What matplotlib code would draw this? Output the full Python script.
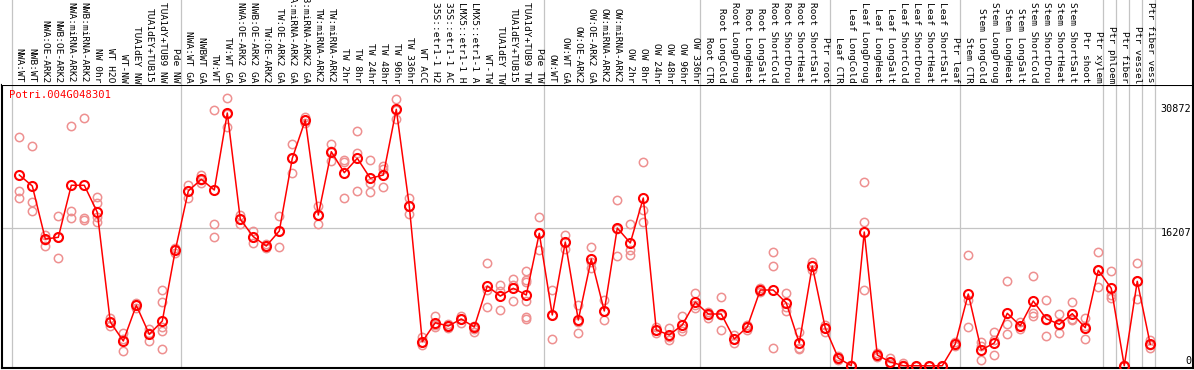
import matplotlib
matplotlib.use('Agg')
import matplotlib.pyplot as plt
import matplotlib.transforms as mtransforms

gene_id = "Potri.004G048301"

categories = [
    "NWA:WT", "NWB:WT", "NWA:OE-ARK2", "NWB:OE-ARK2", "NWA:miRNA-ARK2", "NWB:miRNA-ARK2",
    "NW 0hr", "WT H2O", "WT-NW", "TUA1dEY NW", "TUA1dEY+TUB15", "TUA1dY+TUB9 NW", "Pde NW",
    "NWA:WT GA", "NWBWT GA", "TW:WT", "TW:WT GA", "NWA:OE-ARK2 GA", "NWB:OE-ARK2 GA",
    "TW:OE-ARK2", "TW:OE-ARK2 GA", "NWA:miRNA-ARK2 GA", "NWB:miRNA-ARK2 GA", "TW:miRNA-ARK2",
    "TW:miRNA-ARK2", "TW 2hr", "TW 8hr", "TW 24hr", "TW 48hr", "TW 96hr", "TW 336hr",
    "WT ACC", "35S::etr1-1 H2", "35S::etr1-1 AC", "LMX5::etr1-1 H", "LMX5::etr1-1 A",
    "WT-TW", "TUA1dEY TW", "TUA1dEY+TUB15", "TUA1dY+TUB9 TW", "Pde TW",
    "OW:WT", "OW:WT GA", "OW:OE-ARK2", "OW:OE-ARK2 GA", "OW:miRNA-ARK2", "OW:miRNA-ARK2",
    "OW 2hr", "OW 8hr", "OW 24hr", "OW 48hr", "OW 96hr", "OW 336hr",
    "Root CTR", "Root LongCold", "Root LongDroug", "Root LongHeat", "Root LongSalt",
    "Root ShortCold", "Root ShortDrou", "Root ShortHeat", "Root ShortSalt", "Ptr root",
    "Leaf CTR", "Leaf LongCold", "Leaf LongDroug", "Leaf LongHeat", "Leaf LongSalt",
    "Leaf ShortCold", "Leaf ShortDrou", "Leaf ShortHeat", "Leaf ShortSalt", "Ptr leaf",
    "Stem CTR", "Stem LongCold", "Stem LongDroug", "Stem LongHeat", "Stem LongSalt",
    "Stem ShortCold", "Stem ShortDrou", "Stem ShortHeat", "Stem ShortSalt", "Ptr shoot",
    "Ptr xylem", "Ptr phloem", "Ptr fiber", "Ptr vessel", "Ptr fiber vess",
]

means = [
    22479, 21184, 14947, 15147, 21267, 21267, 18089, 5178, 2942, 7144, 3731, 5296, 13617,
    20596, 21973, 20713, 29776, 17265, 15217, 14123, 15888, 24444, 28952, 17771, 25221,
    22750, 24444, 22090, 22479, 30211, 18830, 2860, 5096, 4708, 5531, 4590, 9415, 8238,
    9145, 8356, 15617,
    6002, 14594, 5414, 12593, 6473, 16241, 14476, 19772, 4237, 3648, 4825, 7532,
    6120, 6120, 3178, 4590, 8944, 8944, 7414, 2707, 11769, 4472,
    942, 30, 15770, 1295, 471, 40, 30, 20, 30, 2589,
    8474, 1883, 2707, 6202, 4743, 7650, 5567, 4908, 6155, 4508, 11263,
    9145, 35, 9968, 2554,
]

replicates = [
    [26916, 20560, 19736], [25892, 19266, 18242], [15417, 14829, 14123],
    [17654, 15182, 12675], [28246, 18277, 17383], [29152, 17418, 17241],
    [19890, 19183, 17536, 16947], [5649, 5178, 4708], [3919, 3178, 1730],
    [7414, 7179, 6826], [4355, 3884, 2978], [8944, 7532, 4555, 4084, 1965],
    [13887, 13652, 13299],
    [21267, 20596, 19736], [22443, 21890, 21537], [30094, 16677, 15147],
    [31541, 29658, 28163], [17771, 17300, 16677], [15888, 15217, 14441],
    [14358, 14123, 13887], [17654, 15888, 13970], [26127, 24480, 22679],
    [29270, 28952, 28634], [18830, 17771, 16677], [26127, 25303, 24126],
    [24244, 24044, 19736], [27657, 25103, 20596], [24244, 21572, 20478],
    [23538, 23150, 21102], [31423, 30129, 29034], [19736, 18830, 17853],
    [3378, 2825, 2471], [5885, 4825, 4555], [4943, 4708, 4437], [5885, 5531, 5096],
    [4743, 4355, 4001], [12087, 8944, 6908], [9533, 8862, 6591], [10204, 9533, 7650],
    [11216, 10121, 9921, 7650, 5802, 5496], [17571, 15617, 13652],
    [8944, 6002, 3178], [15417, 14594, 13770], [7179, 5178, 3884], [14005, 12240, 11534],
    [7768, 6473, 5414], [19536, 16124, 12946], [16712, 13652, 13064], [24009, 18360, 16947],
    [4590, 4237, 3884], [4472, 3413, 3060], [5885, 4472, 4119], [8591, 7179, 6826],
    [6355, 6002, 5649], [8121, 6002, 4237], [3648, 3178, 2707], [4825, 4590, 4237],
    [9180, 8944, 8709], [13417, 11769, 2118], [8591, 6944, 6473], [4001, 2118, 2000],
    [12240, 11769, 11298], [4825, 4472, 4001], [1177, 942, 706],
    [20, 40, 60], [21655, 16947, 8944], [1530, 1295, 1059], [942, 471, 235],
    [353, 118, 0], [50, 30, 10], [40, 20, 0], [50, 30, 10], [2825, 2589, 2354],
    [13064, 7768, 4590], [2825, 2354, 706], [4001, 3060, 1295],
    [10039, 4908, 3731], [5178, 4708, 4355], [10592, 6273, 5920], [7768, 5414, 3531],
    [6085, 4825, 3848], [7497, 5531, 5414], [5614, 4708, 3178], [13452, 11298, 9262],
    [11181, 8356, 7968], [60, 30, 0], [12087, 10004, 7850], [3060, 2471, 2154],
]

group_breaks = [0, 13, 41, 53, 63, 73, 84, 85, 86, 87, 88]
ytick_values = [30872, 16207, 0]
grid_value = 16207

W, H = 1194, 370
fig = plt.figure(figsize=(W / 100, H / 100), dpi=100)
ax = fig.add_axes([1.5 / W, 2 / H, 1191 / W, 283 / H])
lab = fig.add_axes([1.5 / W, 285 / H, 1191 / W, 85 / H])

xmin, xmax = -1.37, 90.25
ax.set_xlim(xmin, xmax)
ax.set_ylim(-235, 33071)
lab.set_xlim(xmin, xmax)
lab.set_ylim(0, 1)

for a in (ax, lab):
    a.set_xticks([])
    a.set_yticks([])
for s in ax.spines.values():
    s.set_color('black')
    s.set_linewidth(1.5)
for k, s in lab.spines.items():
    s.set_visible(k == 'right')
    s.set_linewidth(1.5)

gray = '#c4c4c4'
for b in group_breaks:
    ax.axvline(b - 0.6, color=gray, lw=0.9, zorder=1)
    lab.axvline(b - 0.6, color=gray, lw=0.9, zorder=1)

ax.hlines(grid_value, xmin, 87.9, color=gray, lw=0.9, zorder=1)

# replicate points
rx, ry = [], []
for i, reps in enumerate(replicates):
    for v in reps:
        rx.append(i)
        ry.append(v)
ax.plot(rx, ry, linestyle='none', marker='o', markersize=6, markerfacecolor='none',
        markeredgecolor='#ee9090', markeredgewidth=1.1, zorder=2)

xs = list(range(len(means)))
ax.plot(xs, means, color='#ff0000', lw=1.1, zorder=3)
ax.plot(xs, means, linestyle='none', marker='o', markersize=6.5, markerfacecolor='none',
        markeredgecolor='#ff0000', markeredgewidth=1.5, zorder=4)

mono = 'DejaVu Sans Mono'

# category labels
off = mtransforms.offset_copy(mtransforms.blended_transform_factory(lab.transData, lab.transAxes),
                              fig=fig, x=0, y=2, units='dots')
for i, c in enumerate(categories):
    lab.text(i, 0, c, transform=off, rotation=270, rotation_mode='anchor',
             ha='right', va='center', fontsize=6.8, family=mono, color='black')

# title
ax.text(7.5 / 1191, 1 - 5 / 283, gene_id, transform=ax.transAxes, ha='left', va='top',
        fontsize=7.6, family=mono, color='#ff0000')

# right value labels
ytr = mtransforms.blended_transform_factory(ax.transAxes, ax.transData)
for v in ytick_values:
    ax.text(0.999, v, str(v), transform=ytr, ha='right',
            va='bottom' if v == 0 else 'top', fontsize=7.3, family=mono, color='black')

fig.savefig('out.png', dpi=100)
